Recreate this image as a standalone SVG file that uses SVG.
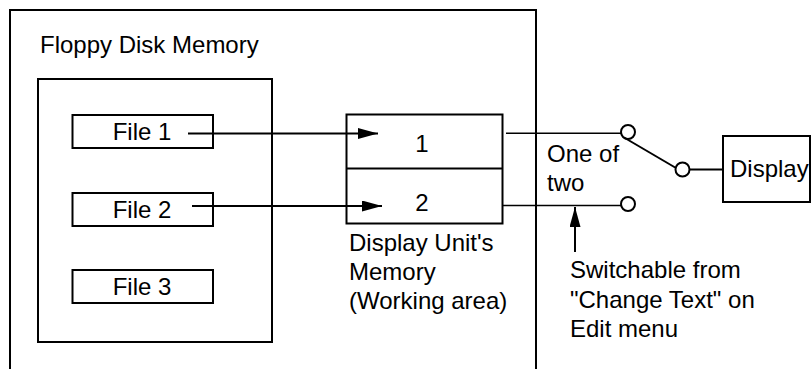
<svg xmlns="http://www.w3.org/2000/svg" width="812" height="369" viewBox="0 0 812 369">
<style>
.box{fill:none;stroke:#000;stroke-width:2}
.ln{fill:none;stroke:#000;stroke-width:1.6}
.circ{fill:#fff;stroke:#000;stroke-width:2}
text{font-family:"Liberation Sans",Arial,sans-serif;font-size:24px;fill:#000}
.mid{text-anchor:middle}
</style>
<defs>
<marker id="ah" markerWidth="20" markerHeight="11" refX="20" refY="5.5" orient="auto" markerUnits="userSpaceOnUse">
<path d="M0,0 L20,5.5 L0,11 Z" fill="#000"/>
</marker>
</defs>
<rect width="812" height="369" fill="#fff"/>
<g id="floppy">
<path class="box" d="M10,369 V10 H536 V369"/>
<text x="40" y="53">Floppy Disk Memory</text>
</g>
<g id="inner">
<rect class="box" x="38" y="79" width="234" height="263"/>
</g>
<g id="file1">
<rect class="box" x="72.5" y="115" width="140.5" height="33"/>
<text class="mid" x="142" y="140">File 1</text>
</g>
<g id="file2">
<rect class="box" x="72.5" y="193" width="140.5" height="33"/>
<text class="mid" x="142" y="218">File 2</text>
</g>
<g id="file3">
<rect class="box" x="72.5" y="270" width="140.5" height="33"/>
<text class="mid" x="142" y="295">File 3</text>
</g>
<g id="memory">
<rect class="box" x="346.5" y="114.5" width="156" height="109"/>
<line class="box" x1="346.5" y1="168.5" x2="502.5" y2="168.5"/>
<text class="mid" x="422" y="152">1</text>
<text class="mid" x="422" y="211">2</text>
<text x="349" y="251">Display Unit's</text>
<text x="349" y="280">Memory</text>
<text x="349" y="309">(Working area)</text>
</g>
<g id="switch">
<circle class="circ" cx="628" cy="132" r="7"/>
<circle class="circ" cx="628" cy="204" r="7"/>
<circle class="circ" cx="682.5" cy="169.5" r="7"/>
<line class="box" x1="624" y1="137.5" x2="676" y2="168"/>
</g>
<g id="display">
<rect class="box" x="723" y="136" width="87" height="66"/>
<text x="730" y="177">Display</text>
</g>
<g id="labels">
<text x="547" y="162">One of</text>
<text x="547" y="191">two</text>
<text x="570" y="278">Switchable from</text>
<text x="570" y="307.5">"Change Text" on</text>
<text x="570" y="337">Edit menu</text>
</g>
<g id="connectors">
<line class="box" x1="188" y1="133.5" x2="378" y2="133.5" marker-end="url(#ah)"/>
<line class="box" x1="192" y1="206" x2="382" y2="206" marker-end="url(#ah)"/>
<line class="ln" x1="506" y1="133.3" x2="621" y2="133.3"/>
<line class="ln" x1="503" y1="205.5" x2="621" y2="205.5"/>
<line class="box" x1="689.5" y1="169.5" x2="723" y2="169.5"/>
<line class="box" x1="575" y1="252" x2="575" y2="207" marker-end="url(#ah)"/>
</g>
</svg>
